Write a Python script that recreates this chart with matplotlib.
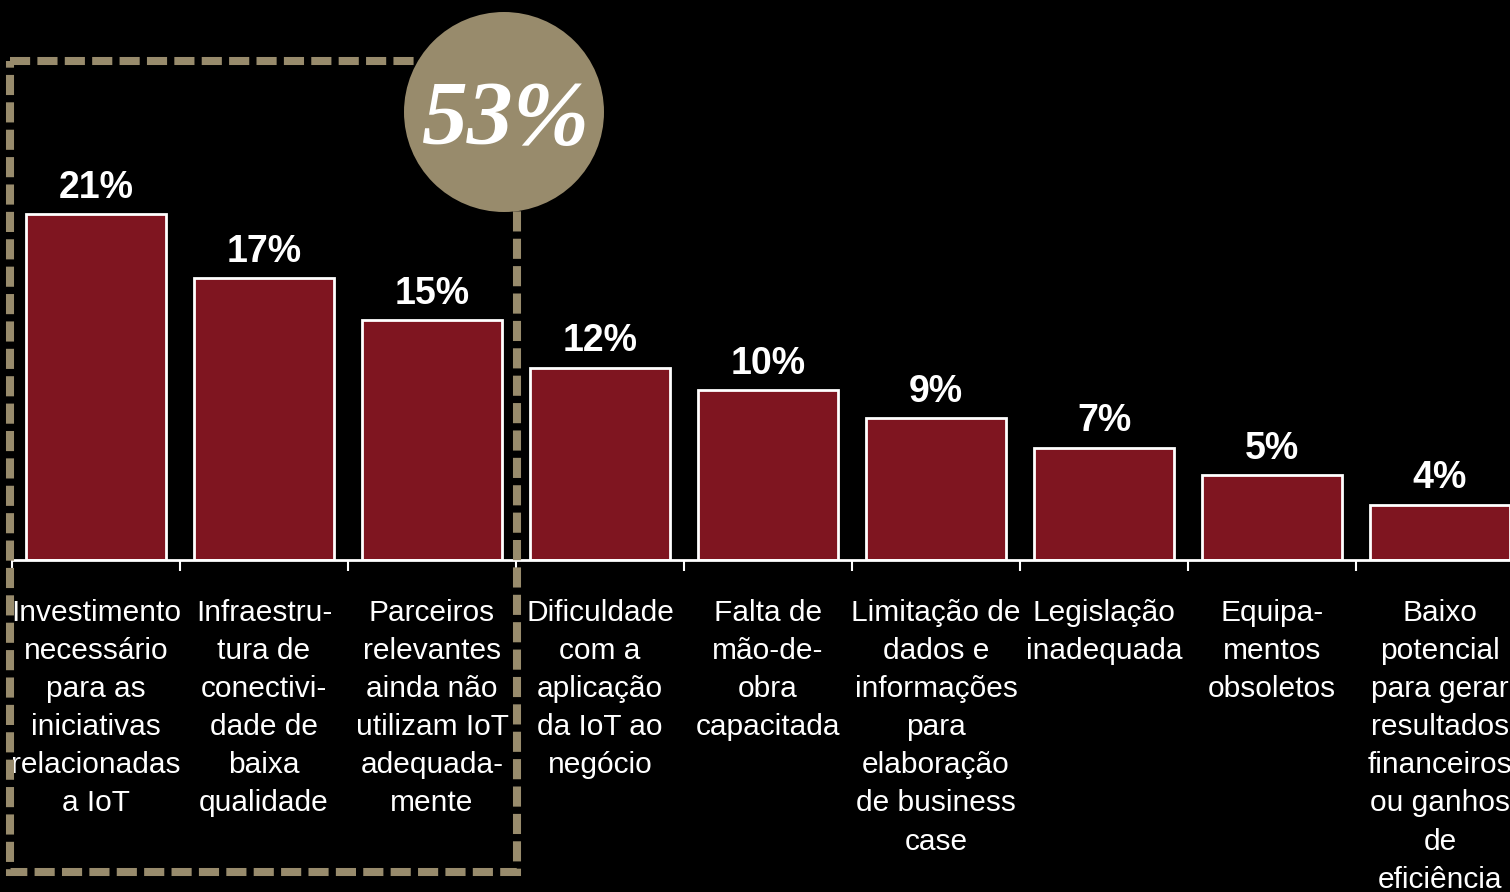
import matplotlib
matplotlib.use("Agg")
import matplotlib.pyplot as plt
from matplotlib.patches import Rectangle, Circle

categories = [
    "Investimento\nnecessário\npara as\niniciativas\nrelacionadas\na IoT",
    "Infraestru-\ntura de\nconectivi-\ndade de\nbaixa\nqualidade",
    "Parceiros\nrelevantes\nainda não\nutilizam IoT\nadequada-\nmente",
    "Dificuldade\ncom a\naplicação\nda IoT ao\nnegócio",
    "Falta de\nmão-de-\nobra\ncapacitada",
    "Limitação de\ndados e\ninformações\npara\nelaboração\nde business\ncase",
    "Legislação\ninadequada",
    "Equipa-\nmentos\nobsoletos",
    "Baixo\npotencial\npara gerar\nresultados\nfinanceiros\nou ganhos\nde\neficiência",
]
values = [21.2, 17.3, 14.7, 11.8, 10.4, 8.7, 6.9, 5.2, 3.4]
value_labels = ["21%", "17%", "15%", "12%", "10%", "9%", "7%", "5%", "4%"]
highlight_text = "53%"

W, H = 1510, 892
fig = plt.figure(figsize=(W / 100, H / 100), dpi=100, facecolor="black")
ax = fig.add_axes([12 / W, (H - 560) / H, 1 - 12 / W, 560 / H])
ax.set_facecolor("black")

x = list(range(len(values)))
bars = ax.bar(x, values, width=0.833, color="#7F1520", edgecolor="white", linewidth=2, zorder=2)
ax.bar_label(bars, labels=value_labels, padding=6, color="white", fontsize=27,
             fontweight="bold", family="Liberation Sans")

ax.set_xlim(-0.5, (W - 12) / 168 - 0.5)
ax.set_ylim(0, 560 / 16.3)
for s in ["top", "right", "left"]:
    ax.spines[s].set_visible(False)
ax.spines["bottom"].set_color("white")
ax.spines["bottom"].set_linewidth(2)
ax.set_yticks([])
ax.set_xticks(x)
ax.set_xticklabels(categories, color="white", fontsize=21.5, family="Liberation Sans",
                   linespacing=1.46, ha="center", va="top")
ax.set_xticks([i - 0.5 for i in range(len(values))], minor=True)
ax.tick_params(axis="x", which="major", length=0, pad=28)
ax.tick_params(axis="x", which="minor", length=8, width=1.5, color="white")

ov = fig.add_axes([0, 0, 1, 1])
ov.set_xlim(0, W)
ov.set_ylim(H, 0)
ov.axis("off")
ov.patch.set_alpha(0)
ov.add_patch(Rectangle((10, 61), 507, 811, fill=False, edgecolor="#988B6C",
                       linewidth=5.8, linestyle=(0, (2.5, 0.9))))
ov.add_patch(Circle((504, 112), 100, facecolor="#988B6C", edgecolor="none", zorder=3))
ov.text(506, 122, highlight_text, color="white", fontsize=66, fontweight="bold",
        fontstyle="italic", family="Liberation Serif", ha="center", va="center", zorder=4)

fig.savefig("out.png", dpi=100, facecolor="black")
